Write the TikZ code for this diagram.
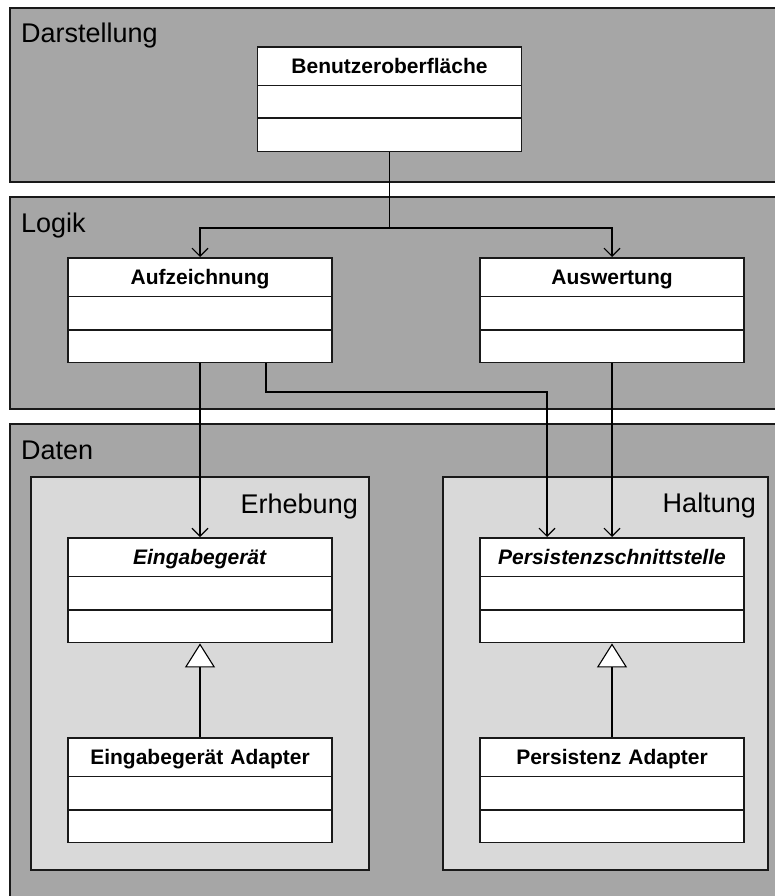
\documentclass[tikz,border=0pt]{standalone}
\usepackage{fontspec}
\setmainfont{Liberation Sans}
\usetikzlibrary{shapes.multipart,arrows.meta}
\definecolor{schichtGrau}{RGB}{166,166,166}
\definecolor{paketGrau}{RGB}{217,217,217}
\definecolor{randSchwarz}{RGB}{25,25,25}

\tikzset{
  klasse/.style={rectangle split, rectangle split parts=3, draw=randSchwarz, line width=1.6pt,
    fill=white, inner sep=0pt, text width=264pt, align=center, anchor=north,
    font=\bfseries\fontsize{21}{21}\selectfont},
  schicht/.style={draw=randSchwarz, line width=1.6pt, fill=schichtGrau},
  paket/.style={draw=randSchwarz, line width=1.6pt, fill=paketGrau},
  titel/.style={font=\fontsize{27}{27}\selectfont, inner sep=0pt},
  pfeil/.style={line width=1.1pt, -{Straight Barb[length=8pt,width=16pt]}},
  erbt/.style={line width=1.1pt, -{Triangle[length=24pt,width=30pt,fill=white]}},
}

\begin{document}
\begin{tikzpicture}[x=1pt,y=-1pt]
    \clip (0,0) rectangle (775,896);
    \fill[white] (0,0) rectangle (775,896);

    % Schichten
    \draw[schicht] (10,8) rectangle (790,182);
    \draw[schicht] (10,197) rectangle (790,409);
    \draw[schicht] (10,424) rectangle (790,910);
    \node[titel, anchor=base west] (darstellung) at (21,43) {Darstellung};
    \node[titel, anchor=base west] (logik) at (21,232) {Logik};
    \node[titel, anchor=base west] (daten) at (21,459) {Daten};

    % Pakete in Daten
    \draw[paket] (31,477) rectangle (369,870);
    \draw[paket] (443,477) rectangle (768,870);
    \node[titel, anchor=base east] (erhebung) at (358,513) {Erhebung};
    \node[titel, anchor=base east] (haltung) at (756,512) {Haltung};

    % Klassen
    \node[klasse] (benutzer) at (389.5,46) {\rule[-11pt]{0pt}{37pt}Benutzeroberfläche
        \nodepart{two}\rule{0pt}{31pt}\nodepart{three}\rule{0pt}{32pt}};
    \node[klasse] (aufz) at (200,257) {\rule[-11pt]{0pt}{37pt}Aufzeichnung
        \nodepart{two}\rule{0pt}{32pt}\nodepart{three}\rule{0pt}{31pt}};
    \node[klasse] (ausw) at (612,257) {\rule[-11pt]{0pt}{37pt}Auswertung
        \nodepart{two}\rule{0pt}{32pt}\nodepart{three}\rule{0pt}{31pt}};
    \node[klasse] (eingabe) at (200,537) {\rule[-11pt]{0pt}{37pt}\textit{Eingabegerät}
        \nodepart{two}\rule{0pt}{32pt}\nodepart{three}\rule{0pt}{31pt}};
    \node[klasse] (persist) at (612,537) {\rule[-11pt]{0pt}{37pt}\textit{Persistenzschnittstelle}
        \nodepart{two}\rule{0pt}{32pt}\nodepart{three}\rule{0pt}{31pt}};
    \node[klasse] (eadapter) at (200,737) {\rule[-11pt]{0pt}{37pt}Eingabegerät Adapter
        \nodepart{two}\rule{0pt}{32pt}\nodepart{three}\rule{0pt}{31pt}};
    \node[klasse] (padapter) at (612,737) {\rule[-11pt]{0pt}{37pt}Persistenz Adapter
        \nodepart{two}\rule{0pt}{32pt}\nodepart{three}\rule{0pt}{31pt}};

    % Verbindungen
    \coordinate (verteiler) at (389.5,228);
    \draw[line width=1.1pt] (benutzer.south) -- (verteiler);
    \draw[pfeil] (verteiler) -| (aufz.north);
    \draw[pfeil] (verteiler) -| (ausw.north);
    \draw[pfeil] (aufz.south) -- (eingabe.north);
    \coordinate (knickA) at (266,392);
    \coordinate (knickB) at (547,392);
    \draw[pfeil] (aufz.south -| knickA) -- (knickA) -- (knickB) -- (knickB |- persist.north);
    \draw[pfeil] (ausw.south) -- (persist.north);

    % Vererbung
    \draw[erbt] (eadapter.north) -- (eingabe.south);
    \draw[erbt] (padapter.north) -- (persist.south);

\end{tikzpicture}
\end{document}
